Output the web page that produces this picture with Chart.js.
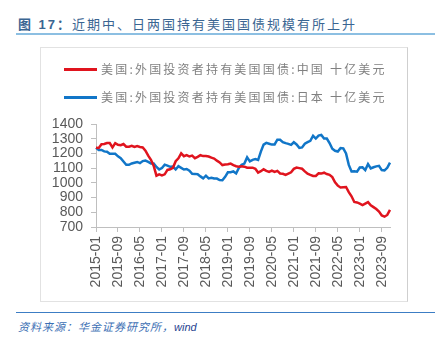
<!DOCTYPE html>
<html>
<head>
<meta charset="utf-8">
<script src="https://cdn.jsdelivr.net/npm/chart.js@4.4.0/dist/chart.umd.min.js"></script>
<style>
  body { margin: 0; width: 435px; height: 339px; background: #fff; position: relative; overflow: hidden;
         font-family: "Liberation Sans", Arial, "Noto Sans CJK SC", sans-serif; }
  .title { position: absolute; left: 18px; top: 14px; font-size: 13px; letter-spacing: 2px; color: #3a6592;
           font-family: "Liberation Sans", "Noto Sans CJK SC", sans-serif; white-space: nowrap; }
  .title b { font-weight: bold; }
  .rule-top { position: absolute; left: 16px; top: 33px; width: 419px; height: 2px; background: #8cbfe2; }
  .box { position: absolute; left: 40px; top: 47px; width: 366px; height: 253px; border: 1px solid #e2e2e2; border-right-color: #cfcfcf; }
  .wrap { position: absolute; left: 40px; top: 47px; width: 367px; height: 254px; }
  .leg { position: absolute; left: 64px; height: 16px; white-space: nowrap; }
  .leg i { position: absolute; left: 0; top: 7px; width: 33px; height: 3px; }
  .leg span { position: absolute; left: 37px; top: 0; font-size: 12px; letter-spacing: 2.2px; color: #808080;
              font-family: "Noto Sans CJK SC", sans-serif; line-height: 16px; }
  .rule-bot { position: absolute; left: 16px; top: 312px; width: 419px; height: 1px; background: #3c7dc4; }
  .src { position: absolute; left: 18px; top: 318px; font-size: 11px; letter-spacing: 1px; color: #3c6fb4; font-style: italic;
         font-family: "Noto Sans CJK SC", sans-serif; white-space: nowrap; }
  .src em { color: #1f3f8f; font-family: "Liberation Sans", Arial, sans-serif; letter-spacing: 0; }
</style>
</head>
<body>
<div class="title"><b>图 17：</b>近期中、日两国持有美国国债规模有所上升</div>
<div class="rule-top"></div>
<div class="box"></div>
<div class="wrap"><canvas id="myChart"></canvas></div>
<div class="leg" style="top:61px"><i style="background:#e0141e"></i><span>美国:外国投资者持有美国国债:中国 十亿美元</span></div>
<div class="leg" style="top:89px"><i style="background:#1176c8"></i><span>美国:外国投资者持有美国国债:日本 十亿美元</span></div>
<div class="rule-bot"></div>
<div class="src">资料来源：华金证券研究所，<em>wind</em></div>

<script>
"strict mode";

// months 2015-01 .. 2023-12
const months = [];
for (let y = 2015; y <= 2023; y++) {
  for (let m = 1; m <= 12; m++) months.push(y + "-" + String(m).padStart(2, "0"));
}

// 中国 (十亿美元)
const chinaHoldings = [
  1239, 1237, 1262, 1264, 1271, 1271, 1241, 1270, 1259, 1256, 1264, 1246,
  1246, 1252, 1244, 1250, 1244, 1241, 1219, 1185, 1157, 1115, 1049, 1058,
  1051, 1058, 1088, 1092, 1102, 1147, 1167, 1201, 1181, 1189, 1179, 1185,
  1168, 1177, 1188, 1182, 1183, 1179, 1171, 1165, 1151, 1139, 1121, 1124,
  1126, 1131, 1121, 1113, 1110, 1113, 1110, 1103, 1102, 1103, 1096, 1070,
  1079, 1092, 1082, 1074, 1083, 1074, 1081, 1064, 1062, 1054, 1063, 1072,
  1095, 1104, 1100, 1096, 1078, 1062, 1054, 1047, 1047, 1065, 1063, 1069,
  1060, 1055, 1039, 1004, 981, 968, 970, 972, 937, 909, 870, 867,
  859, 849, 859, 869, 847, 835, 822, 805, 778, 770, 782, 816
];

// 日本 (十亿美元)
const japanHoldings = [
  1239, 1224, 1224, 1214, 1211, 1197, 1197, 1197, 1180, 1168, 1145, 1123,
  1123, 1132, 1137, 1142, 1134, 1148, 1151, 1142, 1132, 1132, 1108, 1091,
  1101, 1124, 1117, 1109, 1111, 1091, 1113, 1102, 1091, 1094, 1083, 1062,
  1061, 1059, 1044, 1031, 1049, 1030, 1035, 1030, 1029, 1019, 1018, 1041,
  1072, 1072, 1078, 1064, 1101, 1123, 1131, 1173, 1146, 1156, 1161, 1155,
  1212, 1260, 1272, 1266, 1260, 1261, 1293, 1293, 1277, 1270, 1265, 1258,
  1276, 1261, 1238, 1241, 1266, 1277, 1286, 1320, 1301, 1321, 1326, 1302,
  1301, 1271, 1232, 1218, 1213, 1236, 1234, 1200, 1122, 1077, 1079, 1076,
  1104, 1106, 1087, 1128, 1098, 1106, 1112, 1116, 1087, 1084, 1102, 1138
];

const seriesNames = [
  "美国:外国投资者持有美国国债:中国 十亿美元",
  "美国:外国投资者持有美国国债:日本 十亿美元"
];

const tickEvery = 8;
const axisColor = "#bfbfbf";
const labelColor = "#595959";

const ctx = document.getElementById("myChart");

new Chart(ctx, {
  type: "line",
  data: {
    labels: months,
    datasets: [
      {
        label: seriesNames[0],
        data: chinaHoldings,
        borderColor: "#e0141e",
        borderWidth: 2.5,
        pointRadius: 0,
        tension: 0,
      },
      {
        label: seriesNames[1],
        data: japanHoldings,
        borderColor: "#1176c8",
        borderWidth: 2.5,
        pointRadius: 0,
        tension: 0,
      },
    ],
  },
  options: {
    responsive: true,
    maintainAspectRatio: false,
    animation: false,
    layout: { padding: { top: 77, right: 17, bottom: 0, left: 0 } },
    plugins: {
      legend: { display: false },
      tooltip: { enabled: false },
    },
    scales: {
      x: {
        grid: { drawOnChartArea: false, color: axisColor, tickLength: 5 },
        border: { color: axisColor },
        ticks: {
          autoSkip: false,
          minRotation: 90,
          maxRotation: 90,
          padding: 4,
          color: labelColor,
          font: { family: "Liberation Sans", size: 14 },
          callback: function (val, i) {
            return i % tickEvery === 0 ? months[i] : null;
          },
        },
        afterFit: function (scale) { scale.height = 74; },
      },
      y: {
        min: 700,
        max: 1400,
        grid: { drawOnChartArea: false, color: axisColor, tickLength: 5 },
        border: { color: axisColor },
        ticks: {
          stepSize: 100,
          autoSkip: false,
          padding: 8,
          color: labelColor,
          font: { family: "Liberation Sans", size: 14 },
          callback: function (val) { return String(val); },
        },
        afterFit: function (scale) { scale.width = 56; },
      },
    },
  },
});
</script>
</body>
</html>
